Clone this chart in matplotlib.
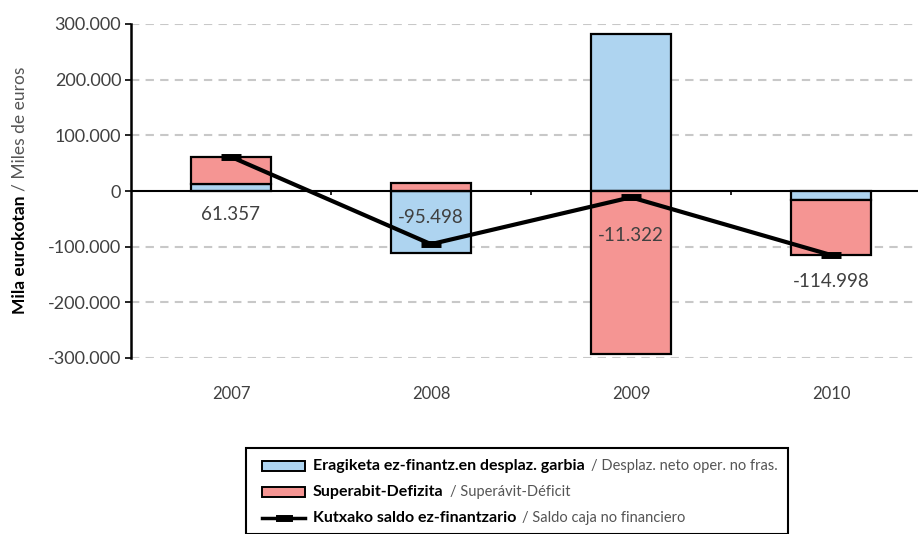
import matplotlib
matplotlib.use("Agg")
import matplotlib.pyplot as plt
from matplotlib.patches import Rectangle
from matplotlib.lines import Line2D
import numpy as np

plt.rcParams['font.family'] = ['Lato', 'DejaVu Sans']

years = ["2007", "2008", "2009", "2010"]
desplaz = [13000, -110498, 282000, -17000]       # Eragiketa ez-finantz.en desplaz. garbia
superavit = [48357, 15000, -293322, -97998]      # Superabit-Defizita
saldo = [61357, -95498, -11322, -114998]         # Kutxako saldo ez-finantzario
saldo_labels = ["61.357", "-95.498", "-11.322", "-114.998"]
yticks = [-300000, -200000, -100000, 0, 100000, 200000, 300000]

BLUE = "#aed4f0"
RED = "#f59593"
GRAY = "#404040"

W, H = 918, 534
fig = plt.figure(figsize=(W / 100, H / 100), dpi=100)
ax_left, ax_right, ax_top, ax_bot = 131, 918, 24, 358
ax = fig.add_axes([ax_left / W, 1 - ax_bot / H, (ax_right - ax_left) / W, (ax_bot - ax_top) / H])

x = np.arange(len(years))
width = 0.4

# stacking: positives and negatives separately, blue first
pos_base = np.zeros(len(years))
neg_base = np.zeros(len(years))
for vals, col in [(desplaz, BLUE), (superavit, RED)]:
    vals = np.array(vals, dtype=float)
    bottoms = np.where(vals >= 0, pos_base, neg_base)
    ax.bar(x, vals, width, bottom=bottoms, color=col, edgecolor="black", linewidth=1.6, zorder=3)
    pos_base = pos_base + np.where(vals >= 0, vals, 0)
    neg_base = neg_base + np.where(vals < 0, vals, 0)

ax.plot(x, saldo, color="black", linewidth=3, marker="_", markersize=15, markeredgewidth=5, zorder=5,
        solid_capstyle="butt")

# data labels
label_y = [-43000, -48500, -80800, -163000]
for xi, ly, t in zip(x, label_y, saldo_labels):
    ax.text(xi, ly, t, ha="center", va="center", fontsize=13.5, color=GRAY, zorder=6)

ax.set_xlim(-0.5, -0.5 + (ax_right - ax_left) / 200)
ax.set_ylim(-300000, 300000)
ax.set_yticks(yticks)
ax.set_yticklabels([f"{v:,}".replace(",", ".") for v in yticks], fontsize=13, color=GRAY)
ax.set_xticks(x)
ax.set_xticklabels(years, fontsize=12, color=GRAY)
ax.tick_params(axis="x", length=0, pad=20)
ax.tick_params(axis="y", length=4, width=1.2, direction="out", pad=3)

for v in yticks:
    if v != 0:
        ax.axhline(v, color="#c8c8c8", linestyle=(0, (4, 3)), linewidth=1.5, zorder=1)
ax.axhline(0, color="black", linewidth=1.5, zorder=4)
ax.vlines([0.5, 1.5, 2.5], -7000, 0, color="black", linewidth=1.2, zorder=4)

for s in ["top", "right", "bottom"]:
    ax.spines[s].set_visible(False)
ax.spines["left"].set_linewidth(1.8)
ax.spines["left"].set_zorder(6)

# y label (two styles)
fig.text(20 / W, 1 - 314 / H, "Mila eurokotan", rotation=90, ha="center", va="bottom",
         fontsize=12.5, fontweight="bold", color="black")
fig.text(20 / W, 1 - 191 / H, "/ Miles de euros", rotation=90, ha="center", va="bottom",
         fontsize=12.5, color="#555555")

# legend box
fig.patches.append(Rectangle((246 / W, 0), (788 - 246) / W, (H - 448) / H, transform=fig.transFigure,
                             facecolor="white", edgecolor="black", linewidth=1.5, clip_on=False))
rows = [
    ("patch", BLUE, "Eragiketa ez-finantz.en desplaz. garbia", "/ Desplaz. neto oper. no fras."),
    ("patch", RED, "Superabit-Defizita", "/ Superávit-Déficit"),
    ("line", "black", "Kutxako saldo ez-finantzario", "/ Saldo caja no financiero"),
]
row_y = [466, 492, 518]
fig.canvas.draw()
renderer = fig.canvas.get_renderer()
for (kind, col, bold, light), ry in zip(rows, row_y):
    yf = 1 - ry / H
    if kind == "patch":
        fig.patches.append(Rectangle((262 / W, yf - 5 / H), 43 / W, 10 / H, transform=fig.transFigure,
                                     facecolor=col, edgecolor="black", linewidth=1.4))
    else:
        fig.lines.append(Line2D([262 / W, 305 / W], [yf, yf], transform=fig.transFigure, color="black",
                                linewidth=2.5))
        fig.lines.append(Line2D([279 / W, 289 / W], [yf, yf], transform=fig.transFigure, color="black",
                                linewidth=5))
    t1 = fig.text(313 / W, yf, bold, ha="left", va="center", fontsize=11.5, fontweight="bold", color="black")
    bb = t1.get_window_extent(renderer=renderer)
    fig.text((bb.x1 + 6) / W, yf, light, ha="left", va="center", fontsize=10.5, color="#555555")

fig.savefig("out.png", dpi=100)
